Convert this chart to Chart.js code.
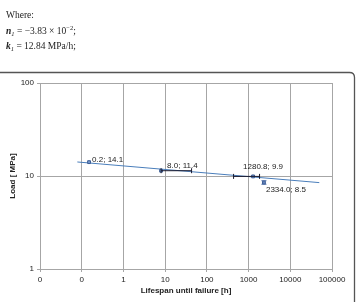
<!DOCTYPE html>
<html>
<head>
<meta charset="utf-8">
<script src="https://cdn.jsdelivr.net/npm/chart.js@4.4.1/dist/chart.umd.min.js"></script>
<style>
  html, body { margin:0; padding:0; background:#fff; }
  #wrap { position:relative; width:358px; height:302px; overflow:hidden; }
  #c { position:absolute; left:0; top:0; }
  .t { position:absolute; left:6px; font-family:"Liberation Serif","Times New Roman",serif; font-size:9.5px; line-height:10px; color:#222; white-space:nowrap; }
  .t sub, .t sup { font-size:6.5px; line-height:0; position:relative; vertical-align:baseline; }
  .t sub { top:1.5px; }
  .t sup { top:-4px; }
</style>
</head>
<body>
<div id="wrap">
  <canvas id="c" width="358" height="302"></canvas>
  <div class="t" style="top:10px;">Where:</div>
  <div class="t" style="top:26px;"><b><i>n</i></b><sub><i>1</i></sub> = −3.83 × 10<sup>−2</sup>;</div>
  <div class="t" style="top:41px;"><b><i>k</i></b><sub><i>1</i></sub> = 12.84 MPa/h;</div>
</div>
<script>
// ---- data ----
const lifespanHours = [0.15, 8.0, 1280.8, 2334.0];
const loadMPa       = [14.1, 11.4, 9.9, 8.5];
const pointLabels   = ["0.2; 14.1", "8.0; 11.4", "1280.8; 9.9", "2334.0; 8.5"];
const xErrLow       = [null, 8.0, 437, null];
const xErrHigh      = [null, 43, 1833, null];
const yErrLow       = [null, null, null, 8.15];
const yErrHigh      = [null, null, null, 8.9];
const trendX        = [0.0785, 49600];
const trendY        = [14.15, 8.49];
const xTickValues   = [0.01, 0.1, 1, 10, 100, 1000, 10000, 100000];
const xTickLabels   = ["0", "0", "1", "10", "100", "1000", "10000", "100000"];
const yTickValues   = [1, 10, 100];
const yTickLabels   = ["1", "10", "100"];
// label placement offsets (style)
const labelOffsets = [[3,-2,'left'],[6,-4.5,'left'],[10,-10,'center'],[2,7,'left']];

const FONT = "'Liberation Sans', Arial, sans-serif";

const framePlugin = {
  id:'frame',
  beforeDraw(chart){
    const ctx = chart.ctx;
    ctx.save();
    ctx.strokeStyle = '#555';
    ctx.lineWidth = 1.3;
    const x0=-6, y0=72.5, x1=354.5, y1=320, r=5;
    ctx.beginPath();
    ctx.moveTo(x0, y0);
    ctx.lineTo(x1-r, y0);
    ctx.quadraticCurveTo(x1, y0, x1, y0+r);
    ctx.lineTo(x1, y1);
    ctx.stroke();
    ctx.restore();
  }
};

const errPlugin = {
  id:'errbars',
  afterDatasetsDraw(chart){
    const ctx = chart.ctx, xs = chart.scales.x, ys = chart.scales.y;
    ctx.save();
    ctx.lineWidth = 1;
    const cap = 2.5;
    for (let i=0;i<lifespanHours.length;i++){
      const py = ys.getPixelForValue(loadMPa[i]);
      const px = xs.getPixelForValue(lifespanHours[i]);
      if (xErrLow[i]!=null){
        const a = xs.getPixelForValue(xErrLow[i]), b = xs.getPixelForValue(xErrHigh[i]);
        ctx.strokeStyle = '#1a1a2e';
        ctx.beginPath();
        ctx.moveTo(a, py); ctx.lineTo(b, py);
        ctx.moveTo(a, py-cap); ctx.lineTo(a, py+cap);
        ctx.moveTo(b, py-cap); ctx.lineTo(b, py+cap);
        ctx.stroke();
      }
      if (yErrLow[i]!=null){
        const a = ys.getPixelForValue(yErrLow[i]), b = ys.getPixelForValue(yErrHigh[i]);
        ctx.strokeStyle = '#4f6fa8';
        ctx.beginPath();
        ctx.moveTo(px, a); ctx.lineTo(px, b);
        ctx.moveTo(px-cap, a); ctx.lineTo(px+cap, a);
        ctx.moveTo(px-cap, b); ctx.lineTo(px+cap, b);
        ctx.stroke();
      }
    }
    ctx.restore();
  }
};

const labelPlugin = {
  id:'ptlabels',
  afterDraw(chart){
    const ctx = chart.ctx, xs = chart.scales.x, ys = chart.scales.y;
    ctx.save();
    ctx.font = '8px ' + FONT;
    ctx.fillStyle = '#222';
    ctx.textBaseline = 'middle';
    for (let i=0;i<pointLabels.length;i++){
      const px = xs.getPixelForValue(lifespanHours[i]);
      const py = ys.getPixelForValue(loadMPa[i]);
      const o = labelOffsets[i];
      ctx.textAlign = o[2];
      ctx.fillText(pointLabels[i], px+o[0], py+o[1]);
    }
    ctx.restore();
  }
};

new Chart(document.getElementById('c'), {
  type:'scatter',
  data:{
    datasets:[
      {
        type:'scatter',
        data: lifespanHours.map((x,i)=>({x, y:loadMPa[i]})),
        pointStyle:'rect',
        pointRadius:2,
        backgroundColor:'#7a9bd0',
        borderColor:'#3b5c93',
        borderWidth:1,
        order:0
      },
      {
        type:'line',
        data: trendX.map((x,i)=>({x, y:trendY[i]})),
        borderColor:'#4a7ebb',
        borderWidth:1,
        pointRadius:0,
        fill:false,
        order:1
      }
    ]
  },
  options:{
    responsive:false,
    animation:false,
    devicePixelRatio:1,
    layout:{ padding:{ top:83, left:0, right:26, bottom:0 } },
    plugins:{ legend:{display:false}, tooltip:{enabled:false} },
    scales:{
      x:{
        type:'logarithmic',
        min:0.01, max:100000,
        afterBuildTicks(s){ s.ticks = xTickValues.map(v=>({value:v})); },
        afterFit(s){ s.height = 33; },
        ticks:{
          autoSkip:false, maxRotation:0, padding:3,
          color:'#222', font:{family:FONT, size:8},
          callback(v, i){ return xTickLabels[i]; }
        },
        grid:{ color:'#a6a6a6', lineWidth:1, tickLength:3, tickColor:'#a6a6a6' },
        border:{ color:'#a6a6a6' },
        title:{ display:true, text:'Lifespan until failure [h]', color:'#222',
                font:{family:FONT, size:8, weight:'bold'}, padding:{top:2,bottom:6} }
      },
      y:{
        type:'logarithmic',
        min:1, max:100,
        afterBuildTicks(s){ s.ticks = yTickValues.map(v=>({value:v})); },
        afterFit(s){ s.width = 40; },
        ticks:{
          autoSkip:false, padding:3,
          color:'#222', font:{family:FONT, size:8},
          callback(v, i){ return yTickLabels[i]; }
        },
        grid:{ color:'#a6a6a6', lineWidth:1, tickLength:3, tickColor:'#a6a6a6' },
        border:{ color:'#a6a6a6' },
        title:{ display:true, text:'Load [ MPa]', color:'#222',
                font:{family:FONT, size:8, weight:'bold'}, padding:{top:8,bottom:0} }
      }
    }
  },
  plugins:[framePlugin, errPlugin, labelPlugin]
});
</script>
</body>
</html>
